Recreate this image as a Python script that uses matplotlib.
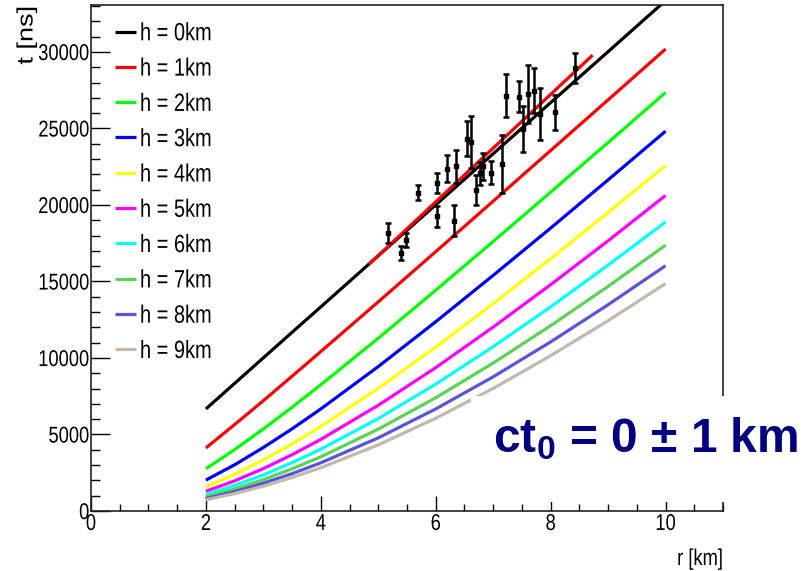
import numpy as np
import matplotlib
matplotlib.use("Agg")
import matplotlib.pyplot as plt
from matplotlib import patheffects
from matplotlib.patches import Rectangle
from matplotlib.ticker import MultipleLocator
from matplotlib.transforms import Affine2D

# ---- data -------------------------------------------------------------
# arrival time t [ns] of the shower front vs. core distance r [km]
# for several emission heights h
heights_km = [0, 1, 2, 3, 4, 5, 6, 7, 8, 9]
r_grid = [2, 2.5, 3, 3.5, 4, 5, 6, 7, 8, 9, 10]
t_h0 = [6670, 8340, 10010, 11680, 13340, 16680, 20010, 23350, 26690, 30020, 33360]
t_h1 = [4120, 5650, 7210, 8810, 10420, 13670, 16950, 20250, 23560, 26870, 30190]
t_h2 = [2760, 4010, 5360, 6780, 8250, 11290, 14430, 17610, 20840, 24080, 27350]
t_h3 = [2020, 3020, 4150, 5370, 6670, 9440, 12370, 15400, 18490, 21640, 24820]
t_h4 = [1580, 2390, 3340, 4390, 5530, 8020, 10710, 13550, 16490, 19510, 22580]
t_h5 = [1290, 1970, 2770, 3680, 4680, 6910, 9370, 12020, 14790, 17660, 20620]
t_h6 = [1080, 1670, 2360, 3160, 4040, 6040, 8290, 10740, 13340, 16070, 18890]
t_h7 = [930, 1440, 2050, 2760, 3540, 5350, 7400, 9670, 12110, 14680, 17370]
t_h8 = [820, 1270, 1820, 2440, 3150, 4780, 6670, 8770, 11050, 13480, 16030]
t_h9 = [730, 1140, 1620, 2190, 2830, 4320, 6060, 8010, 10150, 12440, 14860]
model_t = [t_h0, t_h1, t_h2, t_h3, t_h4, t_h5, t_h6, t_h7, t_h8, t_h9]
colors = ["#000000", "#ff0000", "#00ff00", "#0000ff", "#ffff00",
          "#ff00ff", "#00ffff", "#59d454", "#5954d9", "#c2b8ad"]
labels = [f"h = {h}km" for h in heights_km]

# measured stations
meas_r = [5.17, 5.39, 5.49, 5.70, 6.02, 6.02, 6.20, 6.32, 6.35, 6.54, 6.62,
          6.70, 6.77, 6.83, 6.97, 7.16, 7.23, 7.45, 7.52, 7.60, 7.71, 7.82,
          8.07, 8.42]
meas_t = [18160, 16870, 17700, 20810, 21450, 19260, 22380, 18980, 22530,
          24340, 24120, 20970, 22080, 22530, 22120, 22680, 27140, 27060,
          24960, 27260, 27480, 25950, 26060, 28950]
meas_err = [650, 460, 460, 510, 670, 690, 910, 1040, 1080, 1170, 1710,
            1000, 760, 880, 730, 1910, 1420, 1010, 1480, 1910, 1470, 1690,
            1150, 980]

# straight-line fit to the measurements
fit_r = [4.86, 8.71]
fit_t = [16200, 29720]

annotation = "ct$_\\mathbf{0}$ = 0 ± 1 km"


class Stretch(patheffects.AbstractPathEffect):
    """Scale glyph outlines about an anchor of their own extents."""

    def __init__(self, sx=1.0, sy=1.25, ha="center", va="center"):
        super().__init__()
        self.sx, self.sy, self.ha, self.va = sx, sy, ha, va

    def draw_path(self, renderer, gc, tpath, affine, rgbFace=None):
        try:
            e = tpath.get_extents()
            x0 = {"left": e.x0, "center": 0.5 * (e.x0 + e.x1),
                  "right": e.x1}[self.ha]
            y0 = {"bottom": e.y0, "center": 0.5 * (e.y0 + e.y1),
                  "top": e.y1, "base": 0.0}[self.va]
        except Exception:
            x0 = y0 = 0.0
        pre = (Affine2D().translate(-x0, -y0).scale(self.sx, self.sy)
               .translate(x0, y0))
        renderer.draw_path(gc, tpath, pre + affine, rgbFace)


# ---- style ------------------------------------------------------------
plt.rcParams["font.family"] = ["Liberation Sans", "DejaVu Sans"]
plt.rcParams["mathtext.fontset"] = "custom"
plt.rcParams["mathtext.rm"] = "Liberation Sans:bold"
plt.rcParams["mathtext.bf"] = "Liberation Sans:bold"

TALL = 1.25
W, H = 811, 571
fig = plt.figure(figsize=(W / 100, H / 100), dpi=100)
ax_l, ax_r, ax_t, ax_b = 91, 723, 5.3, 511
ax = fig.add_axes([ax_l / W, (H - ax_b) / H, (ax_r - ax_l) / W, (ax_b - ax_t) / H])

lines = []
for t_vals, c, lab in zip(model_t, colors, labels):
    ln, = ax.plot(r_grid, t_vals, color=c, lw=2.3, label=lab, zorder=2,
                  solid_capstyle="butt", solid_joinstyle="round")
    lines.append(ln)

ax.plot(fit_r, fit_t, color="#ff0000", lw=2.3, zorder=3)

ax.errorbar(meas_r, meas_t, yerr=meas_err, fmt="s", color="black",
            markersize=2.2, elinewidth=1.8, capsize=2.0, capthick=1.8,
            zorder=4)

ax.set_xlim(0, 11)
ax.set_ylim(0, 33050)

ax.xaxis.set_major_locator(MultipleLocator(2))
ax.xaxis.set_minor_locator(MultipleLocator(0.5))
ax.yaxis.set_major_locator(MultipleLocator(5000))
ax.yaxis.set_minor_locator(MultipleLocator(1000))
ax.tick_params(axis="x", which="major", direction="in", length=10.8,
               width=1.0, labelsize=13.2, pad=2.0)
ax.tick_params(axis="x", which="minor", direction="in", length=5.2, width=1.0)
ax.tick_params(axis="y", which="major", direction="in", length=13.5,
               width=1.0, labelsize=13.2, pad=1.2)
ax.tick_params(axis="y", which="minor", direction="in", length=6.7, width=1.0)
for s in ax.spines.values():
    s.set_linewidth(1.2)
    s.set_color("#222222")

ytitle = fig.text(27 / W, 1 - 6 / H, "t [ns]", rotation=90, ha="center",
                  va="top", fontsize=16)
ytitle.set_path_effects([Stretch(1.22, 1.0, "right", "center")])
xtitle = fig.text(723 / W, 1 / H, "r [km]", ha="right", va="bottom",
                  fontsize=13.2)
xtitle.set_path_effects([Stretch(1.0, TALL, "center", "bottom")])

leg = ax.legend(handles=lines, loc="upper left",
                bbox_to_anchor=(115 / W, 1 - 23.5 / H),
                bbox_transform=fig.transFigure, frameon=False, fontsize=14.4,
                handlelength=1.05, handletextpad=0.2, labelspacing=0.815,
                borderpad=0, borderaxespad=0)
for txt in leg.get_texts():
    txt.set_path_effects([Stretch(1.0, TALL, "left", "center")])

# white panel with the ct0 annotation
fig.patches.append(Rectangle((471 / W, (H - 502) / H), (W - 471) / W,
                             (502 - 396) / H, transform=fig.transFigure,
                             facecolor="white", edgecolor="none", zorder=5))
fig.text(493 / W, (H - 452) / H, annotation, ha="left", va="baseline",
         fontsize=34.5, color="#000080", fontweight="bold",
         family="Liberation Sans", zorder=6)

fig.canvas.draw()
for lab in ax.get_xticklabels():
    lab.set_path_effects([Stretch(1.0, TALL, "center", "top")])
for lab in ax.get_yticklabels():
    lab.set_path_effects([Stretch(1.0, TALL, "right", "center")])

fig.savefig("out.png", dpi=100)
